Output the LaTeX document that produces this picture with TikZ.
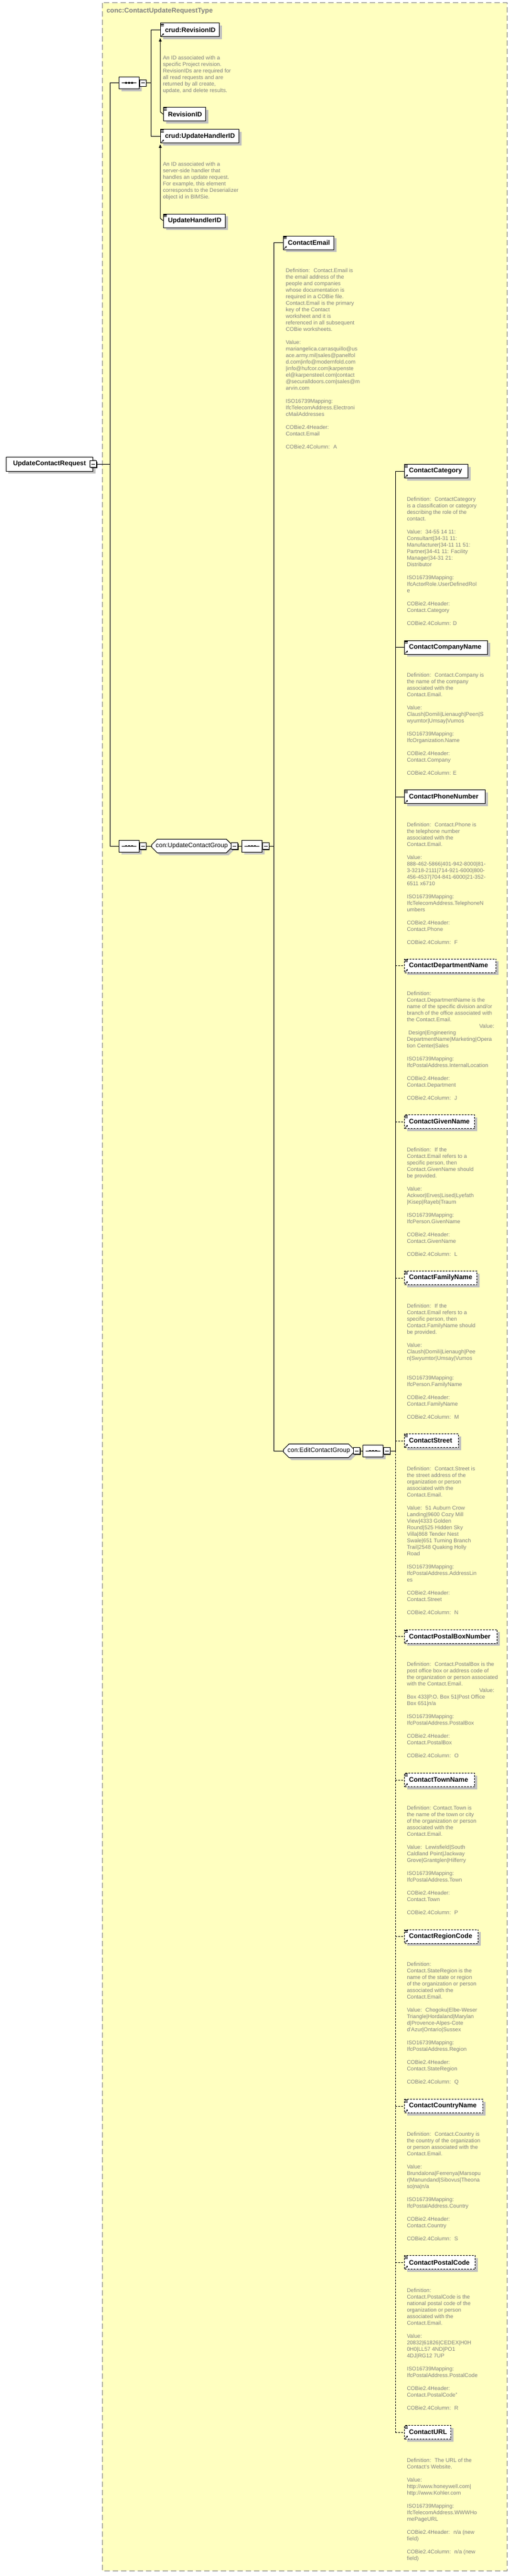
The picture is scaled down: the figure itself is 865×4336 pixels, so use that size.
\documentclass[tikz,border=0pt]{standalone}
\usepackage{fontspec}
\setmainfont{Liberation Sans}
\usetikzlibrary{shapes.misc,shadows,calc,arrows.meta}
\definecolor{bgyellow}{HTML}{FFFFC0}
\definecolor{shadowgray}{HTML}{C0C0C0}
\definecolor{annogray}{HTML}{808080}
\definecolor{bordergray}{HTML}{808080}
\newcommand\xname{\fontsize{11.1}{13}\selectfont\bfseries}
\newcommand\xanno{\fontsize{9.2}{11}\selectfont}
\newcommand\xgrp{\fontsize{10.7}{13}\selectfont}
\newcommand\xtitle{\fontsize{11.2}{13}\selectfont\bfseries}
\newcommand\astrut{\rule{0pt}{8pt}}
\begin{document}
\begin{tikzpicture}[x=1pt,y=-1pt,line width=1pt,
  boxshadow/.style={general shadow={fill=shadowgray,shadow xshift=4pt,shadow yshift=-4pt}},
  elem/.style={draw,fill=white,anchor=west,minimum height=23pt,inner xsep=7.5pt,inner ysep=0pt,text width=#1,align=left,font=\xname,boxshadow},
  opt/.style={dash pattern=on 3pt off 2pt},
  anno/.style={anchor=north west,inner sep=0pt,align=left,text=annogray,font=\xanno},
  seq/.style={chamfered rectangle,chamfered rectangle xsep=5pt,draw,fill=white,minimum width=34pt,minimum height=20pt,inner sep=0pt,anchor=west,boxshadow},
  grp/.style={chamfered rectangle,chamfered rectangle xsep=6pt,draw,fill=white,minimum width=#1,minimum height=23pt,inner sep=1pt,font=\xgrp,anchor=west,boxshadow},
  minus/.style={draw,fill=white,minimum size=11pt,inner sep=0pt,general shadow={fill=black,shadow xshift=1.3pt,shadow yshift=-1.3pt}},
  conn/.style={line width=1pt},
  dconn/.style={line width=1pt,dash pattern=on 3pt off 2pt},
  icon/.style={line width=0.8pt}
]
\useasboundingbox (0,0) rectangle (865,4336);
% type region
\draw[draw=bordergray,fill=bgyellow,dash pattern=on 9pt off 5pt] (172,5) rectangle (854,4327);
\node[anchor=west,inner sep=0pt,font=\xtitle,text=annogray] (title) at (179,19) {conc:ContactUpdateRequestType};

% root
\node[draw,fill=white,minimum width=146.4pt,minimum height=24pt,inner sep=0pt,font=\xname,boxshadow] (root) at (83.5,781) {UpdateContactRequest};
\node[minus] (rootm) at (root.east) {\rule{6pt}{0.9pt}};

% compositors and groups
\node[seq] (s1) at (200,139.5) {};
\node[minus,anchor=west,xshift=-0.5pt] (s1m) at (s1.east) {\rule{6pt}{0.9pt}};
\node[seq] (s2) at (200,1424) {};
\node[minus,anchor=west,xshift=-0.5pt] (s2m) at (s2.east) {\rule{6pt}{0.9pt}};
\node[grp=132pt] (g1) at (255,1424) {con:UpdateContactGroup};
\node[minus,anchor=west,xshift=-2pt] (g1m) at (g1.east) {\rule{6pt}{0.9pt}};
\node[seq] (s3) at (407,1424) {};
\node[minus,anchor=west,xshift=-0.5pt] (s3m) at (s3.east) {\rule{6pt}{0.9pt}};
\node[grp=114pt] (g2) at (477,2442) {con:EditContactGroup};
\node[minus,anchor=west,xshift=-2pt] (g2m) at (g2.east) {\rule{6pt}{0.9pt}};
\node[seq] (s4) at (611,2442) {};
\node[minus,anchor=west,xshift=-0.5pt] (s4m) at (s4.east) {\rule{6pt}{0.9pt}};
\foreach \sq in {s1,s2,s3,s4}{
  \draw[line width=1pt] ($(\sq.center)+(-12.5,0)$) -- ++(25,0);
  \foreach \d in {-5,0,5}{\fill ($(\sq.center)+(\d-1.3,-1.3)$) rectangle ++(2.6,2.6);}
}

% first sequence children
\node[elem=84pt] (crudrev) at (270,50.5) {\mbox{crud:RevisionID}};
\node[elem=56pt] (rtype) at (275,192.3) {\mbox{RevisionID}};
\node[elem=117pt] (cruduh) at (270,229.3) {\mbox{crud:UpdateHandlerID}};
\node[elem=89pt] (uhtype) at (275,371.5) {\mbox{UpdateHandlerID}};
\node[anno] (arev) at (274,92) {\astrut An ID associated with a\\
specific Project revision.\\
RevisionIDs are required for\\
all read requests and are\\
returned by all create,\\
update, and delete results.};
\node[anno] (auh) at (274,270.8) {\astrut An ID associated with a\\
server-side handler that\\
handles an update request.\\
For example, this element\\
corresponds to the Deserializer\\
object id in BIMSie.};

% ContactEmail
\node[elem=70pt] (email) at (477,408.5) {\mbox{ContactEmail}};
\node[anno] (aemail) at (481,450) {\astrut Definition:~ Contact.Email is\\
the email address of the\\
people and companies\\
whose documentation is\\
required in a COBie file.\\
Contact.Email is the primary\\
key of the Contact\\
worksheet and it is\\
referenced in all subsequent\\
COBie worksheets.\\[11pt]
Value:\\
mariangelica.carrasquillo@us\\
ace.army.mil|sales@panelfol\\
d.com|info@modernfold.com\\
|info@hufcor.com|karpenste\\
el@karpensteel.com|contact\\
@securalldoors.com|sales@m\\
arvin.com\\[11pt]
ISO16739Mapping:\\
IfcTelecomAddress.Electroni\\
cMailAddresses\\[11pt]
COBie2.4Header:\\
Contact.Email\\[11pt]
COBie2.4Column:~ A};

% edit group children
\node[elem=92pt] (cat) at (681,793) {\mbox{ContactCategory}};
\node[anno] (acat) at (685,834.5) {\astrut Definition:~ ContactCategory\\
is a classification or category\\
describing the role of the\\
contact.\\[11pt]
Value:~ 34-55 14 11:\\
Consultant|34-31 11:\\
Manufacturer|34-11 11 51:\\
Partner|34-41 11: Facility\\
Manager|34-31 21:\\
Distributor\\[11pt]
ISO16739Mapping:\\
IfcActorRole.UserDefinedRol\\
e\\[11pt]
COBie2.4Header:\\
Contact.Category\\[11pt]
COBie2.4Column: D};

\node[elem=125pt] (comp) at (681,1089.5) {\mbox{ContactCompanyName}};
\node[anno] (acomp) at (685,1131) {\astrut Definition:~ Contact.Company is\\
the name of the company\\
associated with the\\
Contact.Email.\\[11pt]
Value:\\
Claush|Domili|Lienaugh|Peen|S\\
wyumtor|Umsay|Vumos\\[11pt]
ISO16739Mapping:\\
IfcOrganization.Name\\[11pt]
COBie2.4Header:\\
Contact.Company\\[11pt]
COBie2.4Column: E};

\node[elem=121pt] (phone) at (681,1341) {\mbox{ContactPhoneNumber}};
\node[anno] (aphone) at (685,1382.5) {\astrut Definition:~ Contact.Phone is\\
the telephone number\\
associated with the\\
Contact.Email.\\[11pt]
Value:\\
888-462-5866|401-942-8000|81-\\
3-3218-2111|714-921-6000|800-\\
456-4537|704-841-6000|21-352-\\
6511 x6710\\[11pt]
ISO16739Mapping:\\
IfcTelecomAddress.TelephoneN\\
umbers\\[11pt]
COBie2.4Header:\\
Contact.Phone\\[11pt]
COBie2.4Column:~ F};

\node[elem=139pt,opt] (dept) at (681,1625.5) {\mbox{ContactDepartmentName}};
\node[anno] (adept) at (685,1667) {\astrut Definition:\\
Contact.DepartmentName is the\\
name of the specific division and/or\\
branch of the office associated with\\
the Contact.Email.\\
\hspace*{122pt}Value:\\
\hspace*{2.5pt}Design|Engineering\\
DepartmentName|Marketing|Opera\\
tion Center|Sales\\[11pt]
ISO16739Mapping:\\
IfcPostalAddress.InternalLocation\\[11pt]
COBie2.4Header:\\
Contact.Department\\[11pt]
COBie2.4Column:~ J};

\node[elem=103pt,opt] (given) at (681,1888) {\mbox{ContactGivenName}};
\node[anno] (agiven) at (685,1929.5) {\astrut Definition:~ If the\\
Contact.Email refers to a\\
specific person, then\\
Contact.GivenName should\\
be provided.\\[11pt]
Value:\\
Ackwor|Erves|Lised|Lyefath\\
|Kisep|Rayeb|Traum\\[11pt]
ISO16739Mapping:\\
IfcPerson.GivenName\\[11pt]
COBie2.4Header:\\
Contact.GivenName\\[11pt]
COBie2.4Column:~ L};

\node[elem=107pt,opt] (family) at (681,2151) {\mbox{ContactFamilyName}};
\node[anno] (afamily) at (685,2192.5) {\astrut Definition:~ If the\\
Contact.Email refers to a\\
specific person, then\\
Contact.FamilyName should\\
be provided.\\[11pt]
Value:\\
Claush|Domili|Lienaugh|Pee\\
n|Swyumtor|Umsay|Vumos\\[22pt]
ISO16739Mapping:\\
IfcPerson.FamilyName\\[11pt]
COBie2.4Header:\\
Contact.FamilyName\\[11pt]
COBie2.4Column:~ M};

\node[elem=76pt,opt] (street) at (681,2425) {\mbox{ContactStreet}};
\node[anno] (astreet) at (685,2466.5) {\astrut Definition:~ Contact.Street is\\
the street address of the\\
organization or person\\
associated with the\\
Contact.Email.\\[11pt]
Value:~ 51 Auburn Crow\\
Landing|9600 Cozy Mill\\
View|4333 Golden\\
Round|525 Hidden Sky\\
Villa|868 Tender Nest\\
Swale|651 Turning Branch\\
Trail|2548 Quaking Holly\\
Road\\[11pt]
ISO16739Mapping:\\
IfcPostalAddress.AddressLin\\
es\\[11pt]
COBie2.4Header:\\
Contact.Street\\[11pt]
COBie2.4Column:~ N};

\node[elem=141pt,opt] (pobox) at (681,2754.5) {\mbox{ContactPostalBoxNumber}};
\node[anno] (apobox) at (685,2796) {\astrut Definition:~ Contact.PostalBox is the\\
post office box or address code of\\
the organization or person associated\\
with the Contact.Email.\\
\hspace*{122pt}Value:\\
Box 433|P.O. Box 51|Post Office\\
Box 651|n/a\\[11pt]
ISO16739Mapping:\\
IfcPostalAddress.PostalBox\\[11pt]
COBie2.4Header:\\
Contact.PostalBox\\[11pt]
COBie2.4Column:~ O};

\node[elem=103pt,opt] (town) at (681,2996) {\mbox{ContactTownName}};
\node[anno] (atown) at (685,3037.5) {\astrut Definition: Contact.Town is\\
the name of the town or city\\
of the organization or person\\
associated with the\\
Contact.Email.\\[11pt]
Value:~ Lewisfield|South\\
Caldland Point|Jackway\\
Grove|Grantglen|Hilferry\\[11pt]
ISO16739Mapping:\\
IfcPostalAddress.Town\\[11pt]
COBie2.4Header:\\
Contact.Town\\[11pt]
COBie2.4Column:~ P};

\node[elem=109pt,opt] (region) at (681,3259.5) {\mbox{ContactRegionCode}};
\node[anno] (aregion) at (685,3301) {\astrut Definition:\\
Contact.StateRegion is the\\
name of the state or region\\
of the organization or person\\
associated with the\\
Contact.Email.\\[11pt]
Value:~ Chogoku|Elbe-Weser\\
Triangle|Hordaland|Marylan\\
d|Provence-Alpes-Cote\\
d'Azur|Ontario|Sussex\\[11pt]
ISO16739Mapping:\\
IfcPostalAddress.Region\\[11pt]
COBie2.4Header:\\
Contact.StateRegion\\[11pt]
COBie2.4Column:~ Q};

\node[elem=117pt,opt] (country) at (681,3545) {\mbox{ContactCountryName}};
\node[anno] (acountry) at (685,3586.5) {\astrut Definition:~ Contact.Country is\\
the country of the organization\\
or person associated with the\\
Contact.Email.\\[11pt]
Value:\\
Brundalona|Ferrenya|Marsopu\\
r|Manundand|Sibovus|Theona\\
so|na|n/a\\[11pt]
ISO16739Mapping:\\
IfcPostalAddress.Country\\[11pt]
COBie2.4Header:\\
Contact.Country\\[11pt]
COBie2.4Column:~ S};

\node[elem=104pt,opt] (pcode) at (681,3808) {\mbox{ContactPostalCode}};
\node[anno] (apcode) at (685,3849.5) {\astrut Definition:\\
Contact.PostalCode is the\\
national postal code of the\\
organization or person\\
associated with the\\
Contact.Email.\\[11pt]
Value:\\
20832|61826|CEDEX|H0H\\
0H0|LL57 4ND|PO1\\
4DJ|RG12 7UP\\[11pt]
ISO16739Mapping:\\
IfcPostalAddress.PostalCode\\[11pt]
COBie2.4Header:\\
Contact.PostalCode"\\[11pt]
COBie2.4Column:~ R};

\node[elem=63pt,opt] (url) at (681,4094) {\mbox{ContactURL}};
\node[anno] (aurl) at (685,4135.5) {\astrut Definition:~ The URL of the\\
Contact's Website.\\[11pt]
Value:\\
http://www.honeywell.com|\\
http://www.Kohler.com\\[11pt]
ISO16739Mapping:\\
IfcTelecomAddress.WWWHo\\
mePageURL\\[11pt]
COBie2.4Header:~ n/a (new\\
field)\\[11pt]
COBie2.4Column:~ n/a (new\\
field)};

% icons
\foreach \nm in {crudrev,rtype,cruduh,uhtype,email,cat,comp,phone,dept,given,family,street,pobox,town,region,country,pcode,url}{
  \foreach \k in {1.5,3.3,5.1}{\draw[icon] ($(\nm.north west)+(1.3,\k)$) -- ++(5,0);}
}
\foreach \nm in {crudrev,cruduh,email,cat,comp,phone,dept,given,family,street,pobox,town,region,country,pcode,url}{
  \draw[icon,-{Stealth[length=3pt,width=3.2pt]}] ($(\nm.south west)+(1.6,-1.6)$) -- ++(4.6,-4.6);
}

% connectors
\coordinate (sp0) at (185,781);
\coordinate (sp1) at (254,139.5);
\coordinate (sp3) at (461,1424);
\coordinate (sp4) at (666,2442);
\draw[conn] (rootm.east) -- (sp0 |- rootm.east);
\draw[conn] (sp0 |- s1.west) -- (sp0 |- s2.west);
\draw[conn] (sp0 |- s1.west) -- (s1.west);
\draw[conn] (sp0 |- s2.west) -- (s2.west);
\draw[conn] (s1m.east) -- (sp1 |- s1m.east);
\draw[conn] (sp1 |- crudrev.west) -- (sp1 |- cruduh.west);
\draw[conn] (sp1 |- crudrev.west) -- (crudrev.west);
\draw[conn] (sp1 |- cruduh.west) -- (cruduh.west);
\draw[conn,-{Triangle[length=6pt,width=4.5pt]}] (rtype.west) -- ++(-5,-4) -- ($(crudrev.south west)+(0,1.5)$);
\draw[conn,-{Triangle[length=6pt,width=4.5pt]}] (uhtype.west) -- ++(-5,-4) -- ($(cruduh.south west)+(0,1.5)$);
\draw[conn] (s2m.east) -- (g1.west);
\draw[conn] (g1m.east) -- (s3.west);
\draw[conn] (s3m.east) -- (sp3 |- s3m.east);
\draw[conn] (sp3 |- email.west) -- (sp3 |- g2.west);
\draw[conn] (sp3 |- email.west) -- (email.west);
\draw[conn] (sp3 |- g2.west) -- (g2.west);
\draw[conn] (g2m.east) -- (s4.west);
\draw[conn] (s4m.east) -- (sp4 |- s4m.east);
\draw[conn] (sp4 |- cat.west) -- (sp4 |- s4m.east);
\draw[dconn] (sp4 |- s4m.east) -- (sp4 |- url.west);
\foreach \nm in {cat,comp,phone}{\draw[conn] (sp4 |- \nm.west) -- (\nm.west);}
\foreach \nm in {dept,given,family,street,pobox,town,region,country,pcode,url}{\draw[dconn] (sp4 |- \nm.west) -- (\nm.west);}
\end{tikzpicture}
\end{document}
